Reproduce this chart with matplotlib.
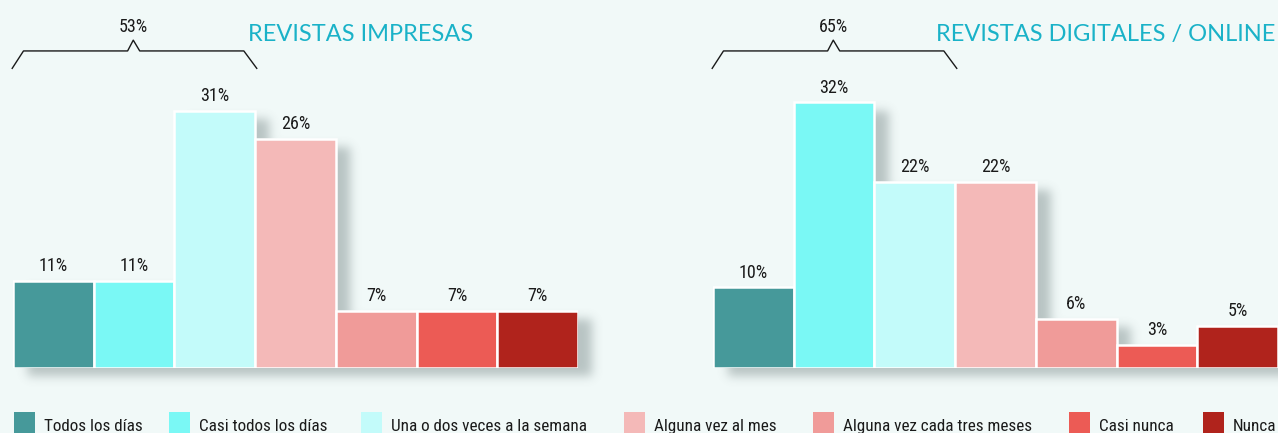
import numpy as np
import matplotlib
matplotlib.use('Agg')
import matplotlib.pyplot as plt
from matplotlib import font_manager
from matplotlib.font_manager import FontProperties
from matplotlib.patches import Rectangle
from matplotlib.textpath import TextPath

# datos
categorias = ['Todos los días', 'Casi todos los días', 'Una o dos veces a la semana',
              'Alguna vez al mes', 'Alguna vez cada tres meses', 'Casi nunca', 'Nunca']
colores = ['#46999a', '#7af8f5', '#c3fbfa', '#f4b9b8', '#f09b99', '#ec5b55', '#b0231c']

impresas_vals = [10.5, 10.5, 31.0, 27.6, 6.9, 6.9, 6.9]
impresas_labels = ['11%', '11%', '31%', '26%', '7%', '7%', '7%']
impresas_total = '53%'

digitales_vals = [9.7, 32.0, 22.4, 22.4, 5.9, 2.8, 5.1]
digitales_labels = ['10%', '32%', '22%', '22%', '6%', '3%', '5%']
digitales_total = '65%'

titulos = ['REVISTAS IMPRESAS', 'REVISTAS DIGITALES / ONLINE']

bg = '#f1f9f8'
W, H = 1278, 433

# fuente estrecha, la que haya
nombres = {f.name for f in font_manager.fontManager.ttflist}
fam = next((f for f in ['Roboto Condensed', 'Liberation Sans Narrow', 'Open Sans Condensed',
                        'Noto Sans Condensed', 'DejaVu Sans'] if f in nombres), 'DejaVu Sans')
prop = FontProperties(family=fam, stretch='condensed')
ancho = TextPath((0, 0), 'Todos los días', size=10, prop=prop).get_extents().width
fs = min(13.5, 10 * (86 * 0.72) / ancho)
fs_lab = fs * 1.2
fs_ley = fs * 1.14
plt.rcParams['font.family'] = [fam, 'DejaVu Sans']
plt.rcParams['font.stretch'] = 'condensed'

fig = plt.figure(figsize=(W / 100, H / 100), dpi=100, facecolor=bg)


def px_axes(left, top, width, height):
    return fig.add_axes([left / W, 1 - (top + height) / H, width / W, height / H])


def gauss(a, sigma, axis):
    r = int(3 * sigma)
    k = np.exp(-0.5 * (np.arange(-r, r + 1) / sigma) ** 2)
    k /= k.sum()
    return np.apply_along_axis(lambda m: np.convolve(m, k, mode='same'), axis, a)


def sombra(ax, vals, pxx, pxy):
    # sombra difusa del contorno de barras, desplazada abajo a la derecha
    dx, dy = 14 / pxx, 9 / pxy
    xs = np.arange(-0.5, len(vals) + 0.8, 1 / pxx)
    ys = np.arange(-4, 40, 1 / pxy)
    X, Y = np.meshgrid(xs, ys)
    idx = np.floor(X - dx).astype(int)
    ok = (idx >= 0) & (idx < len(vals))
    alto = np.where(ok, np.array(vals)[np.clip(idx, 0, len(vals) - 1)], -99)
    mask = ((Y + dy >= 0) & (Y + dy <= alto)).astype(float)
    mask = gauss(gauss(mask, 5, 0), 5, 1)
    img = np.zeros(mask.shape + (4,))
    img[..., 0] = 0.36
    img[..., 1] = 0.43
    img[..., 2] = 0.43
    img[..., 3] = 0.38 * mask
    im = ax.imshow(img, extent=(xs[0], xs[-1], ys[0], ys[-1]), origin='lower',
                   aspect='auto', interpolation='bilinear', zorder=1)
    im.set_clip_on(False)


def panel(ax, vals, labels, total):
    x = range(len(vals))
    sombra(ax, vals, 565 / 7, 332 / 40)
    ax.bar(x, vals, width=1, align='edge', color=colores, edgecolor='white',
           linewidth=1.8, zorder=2)
    for i, (v, lab) in enumerate(zip(vals, labels)):
        ax.annotate(lab, (i + 0.5, v), xytext=(0, 7), textcoords='offset points',
                    ha='center', va='baseline', fontsize=fs_lab, color='#1a1a1a')
    # llave sobre las tres primeras barras
    lo, hi, pk = 36.1, 38.2, 39.5
    bx = [-0.01, 0.13, 1.42, 1.49, 1.57, 2.86, 3.02]
    by = [lo, hi, hi, pk, hi, hi, lo]
    ax.plot(bx, by, color='#1a1a1a', lw=1.0, clip_on=False, zorder=3)
    ax.text(1.49, pk + 1.0, total, ha='center', va='baseline', fontsize=fs_lab,
            color='#1a1a1a')
    ax.set_xlim(0, len(vals))
    ax.set_ylim(0, 40)
    ax.axis('off')


ax1 = px_axes(13, 36, 565, 332)
panel(ax1, impresas_vals, impresas_labels, impresas_total)
ax2 = px_axes(713, 36, 565, 332)
panel(ax2, digitales_vals, digitales_labels, digitales_total)

fig.text(248 / W, 1 - 41 / H, titulos[0], fontsize=17, color='#1ab2c8',
         family=['Lato', 'DejaVu Sans'], stretch='normal', va='baseline', ha='left')
fig.text(1275 / W, 1 - 41 / H, titulos[1], fontsize=17, color='#1ab2c8',
         family=['Lato', 'DejaVu Sans'], stretch='normal', va='baseline', ha='right')

# leyenda a mano, en la fila inferior
leyenda_x = [14, 169, 361, 624, 813, 1069, 1203]
for xp, c, cat in zip(leyenda_x, colores, categorias):
    fig.patches.append(Rectangle((xp / W, 0), 21 / W, 21 / H, transform=fig.transFigure,
                                 facecolor=c, edgecolor='none'))
    fig.text((xp + 30) / W, 2 / H, cat, fontsize=fs_ley, color='#1a1a1a',
             va='baseline', ha='left')

fig.savefig('out.png', dpi=100, facecolor=bg)
